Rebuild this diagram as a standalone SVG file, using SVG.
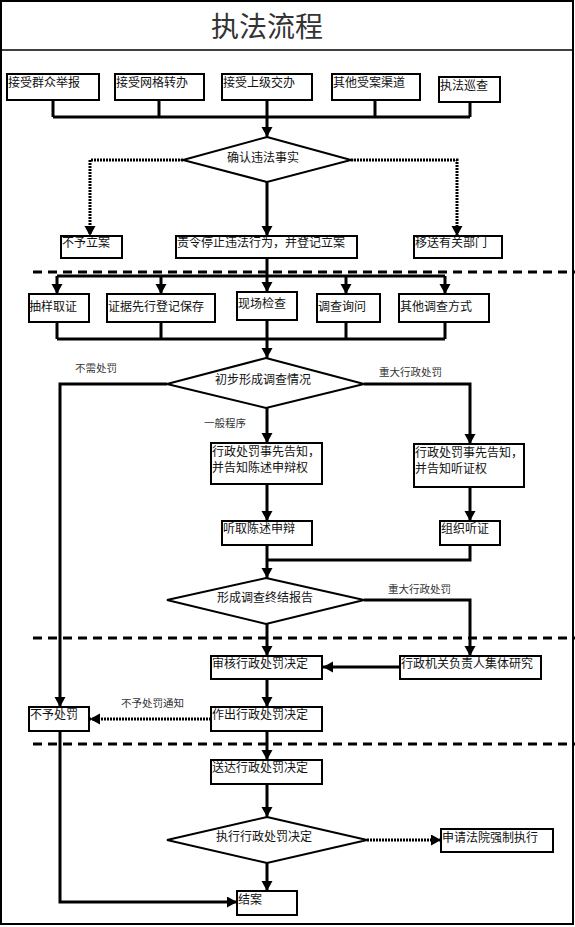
<svg xmlns="http://www.w3.org/2000/svg" width="575" height="927" viewBox="0 0 575 927">
<style>
  .box { fill: #fff; stroke: #000; stroke-width: 2; }
  .dia { fill: #fff; stroke: #000; stroke-width: 2; }
  .t { font-family: "Noto Sans CJK SC", "Liberation Sans", sans-serif; font-size: 12px; fill: #111; }
  .tc { font-family: "Noto Sans CJK SC", "Liberation Sans", sans-serif; font-size: 12px; fill: #111; text-anchor: middle; }
  .lbl { font-family: "Noto Sans CJK SC", "Liberation Sans", sans-serif; font-size: 10.5px; fill: #333; }
  .ln { fill: none; stroke: #000; stroke-width: 3; }
  .arr { fill: none; stroke: #000; stroke-width: 3; marker-end: url(#ah); }
  .dot { fill: none; stroke: #000; stroke-width: 3; stroke-dasharray: 2 1; marker-end: url(#ah); }
  .dash { fill: none; stroke: #000; stroke-width: 3; stroke-dasharray: 9 6; }
</style>
<defs>
  <marker id="ah" markerUnits="userSpaceOnUse" markerWidth="12" markerHeight="12" refX="10" refY="5.5" orient="auto">
    <path d="M0,0 L10,5.5 L0,11 z" fill="#000"/>
  </marker>
</defs>
<rect x="0" y="0" width="575" height="927" fill="#fff"/>
<rect x="1" y="1" width="572" height="923" fill="none" stroke="#000" stroke-width="2"/>
<line x1="1" y1="50" x2="573" y2="50" stroke="#000" stroke-width="1.5"/>
<text x="267" y="37" font-family="Noto Sans CJK SC, sans-serif" font-size="28" fill="#333" text-anchor="middle">执法流程</text>

<g id="separators">
  <line class="dash" x1="33" y1="272" x2="575" y2="272"/>
  <line class="dash" x1="33" y1="638" x2="575" y2="638"/>
  <line class="dash" x1="33" y1="744" x2="575" y2="744"/>
</g>

<g id="connectors">
  <path class="ln" d="M53,100 V117 M159,100 V117 M267,100 V117 M375,100 V117 M470,102 V117 M53,117 H470"/>
  <path class="arr" d="M267,117 V137"/>
  <path class="dot" d="M183,160 H90 V236"/>
  <path class="dot" d="M351,160 H457 V236"/>
  <path class="arr" d="M267,182 V236"/>
  <path class="ln" d="M267,258 V276 M57,276 H445"/>
  <path class="arr" d="M57,276 V294"/>
  <path class="arr" d="M161,276 V294"/>
  <path class="arr" d="M267,276 V292"/>
  <path class="arr" d="M346,276 V294"/>
  <path class="arr" d="M445,276 V294"/>
  <path class="ln" d="M57,322 V339 M161,322 V339 M267,320 V339 M346,322 V339 M445,322 V339 M57,339 H445"/>
  <path class="arr" d="M267,339 V358"/>
  <path class="arr" d="M167,384 H60 V707"/>
  <path class="arr" d="M364,384 H470 V444"/>
  <path class="arr" d="M267,408 V443"/>
  <path class="arr" d="M267,484 V521"/>
  <path class="arr" d="M470,487 V521"/>
  <path class="ln" d="M470,545 V560 H267"/>
  <path class="arr" d="M267,545 V578"/>
  <path class="arr" d="M364,600 H470 V656"/>
  <path class="arr" d="M267,624 V656"/>
  <path class="arr" d="M400,667 H323"/>
  <path class="arr" d="M267,679 V707"/>
  <path class="dot" d="M211,719 H90"/>
  <path class="arr" d="M267,731 V760"/>
  <path class="arr" d="M267,784 V817"/>
  <path class="dot" d="M367,840 H441"/>
  <path class="arr" d="M267,863 V891"/>
  <path class="arr" d="M60,731 V902 H237"/>
</g>

<g id="n_qunzhong"><rect class="box" x="7" y="74" width="92" height="26"/><text class="t" x="8" y="87">接受群众举报</text></g>
<g id="n_wangge"><rect class="box" x="115" y="74" width="89" height="26"/><text class="t" x="116" y="87">接受网格转办</text></g>
<g id="n_shangji"><rect class="box" x="222" y="74" width="90" height="26"/><text class="t" x="223" y="87">接受上级交办</text></g>
<g id="n_qita"><rect class="box" x="332" y="74" width="88" height="26"/><text class="t" x="333" y="87">其他受案渠道</text></g>
<g id="n_xuncha"><rect class="box" x="439" y="77" width="61" height="25"/><text class="t" x="440" y="90">执法巡查</text></g>

<g id="d_queren"><polygon class="dia" points="267,137 351,160 267,182 183,160"/><text class="tc" x="263" y="161.5">确认违法事实</text></g>

<g id="n_buyulian"><rect class="box" x="61" y="236" width="61" height="22"/><text class="t" x="62" y="247">不予立案</text></g>
<g id="n_zeling"><rect class="box" x="176" y="236" width="181" height="22"/><text class="t" x="177" y="247">责令停止违法行为，并登记立案</text></g>
<g id="n_yisong"><rect class="box" x="414" y="236" width="88" height="22"/><text class="t" x="415" y="247">移送有关部门</text></g>

<g id="n_chouyang"><rect class="box" x="29" y="294" width="60" height="28"/><text class="t" x="29" y="311">抽样取证</text></g>
<g id="n_zhengju"><rect class="box" x="107" y="294" width="108" height="28"/><text class="t" x="108" y="311">证据先行登记保存</text></g>
<g id="n_xianchang"><rect class="box" x="237" y="292" width="60" height="28"/><text class="t" x="238" y="308">现场检查</text></g>
<g id="n_diaocha"><rect class="box" x="317" y="294" width="63" height="28"/><text class="t" x="318" y="311">调查询问</text></g>
<g id="n_qitadc"><rect class="box" x="399" y="294" width="90" height="28"/><text class="t" x="400" y="311">其他调查方式</text></g>

<g id="d_chubu"><polygon class="dia" points="266,358 364,384 266,408 167,384"/><text class="tc" x="263" y="384">初步形成调查情况</text></g>
<text class="lbl" x="75" y="372">不需处罚</text>
<text class="lbl" x="379" y="376">重大行政处罚</text>
<text class="lbl" x="204" y="427">一般程序</text>

<g id="n_gaozhi1"><rect class="box" x="211" y="443" width="111" height="41"/><text class="t" x="212" y="456">行政处罚事先告知，</text><text class="t" x="212" y="472">并告知陈述申辩权</text></g>
<g id="n_gaozhi2"><rect class="box" x="414" y="444" width="110" height="43"/><text class="t" x="415" y="457">行政处罚事先告知，</text><text class="t" x="415" y="473">并告知听证权</text></g>

<g id="n_tingqu"><rect class="box" x="222" y="521" width="90" height="24"/><text class="t" x="223" y="533">听取陈述申辩</text></g>
<g id="n_zuzhi"><rect class="box" x="440" y="521" width="60" height="24"/><text class="t" x="441" y="533">组织听证</text></g>

<g id="d_zhongjie"><polygon class="dia" points="266,578 364,600 266,624 167,600"/><text class="tc" x="265" y="601.5">形成调查终结报告</text></g>
<text class="lbl" x="388" y="593">重大行政处罚</text>

<g id="n_shenhe"><rect class="box" x="211" y="656" width="111" height="23"/><text class="t" x="212" y="668">审核行政处罚决定</text></g>
<g id="n_jiti"><rect class="box" x="400" y="656" width="141" height="23"/><text class="t" x="401" y="668">行政机关负责人集体研究</text></g>

<g id="n_zuochu"><rect class="box" x="211" y="707" width="111" height="24"/><text class="t" x="212" y="719">作出行政处罚决定</text></g>
<g id="n_buyuchufa"><rect class="box" x="29" y="707" width="60" height="24"/><text class="t" x="30" y="719">不予处罚</text></g>
<text class="lbl" x="121" y="707">不予处罚通知</text>

<g id="n_songda"><rect class="box" x="211" y="760" width="111" height="24"/><text class="t" x="212" y="772">送达行政处罚决定</text></g>

<g id="d_zhixing"><polygon class="dia" points="267,817 367,840 267,863 167,840"/><text class="tc" x="264" y="840.5">执行行政处罚决定</text></g>
<g id="n_shenqing"><rect class="box" x="441" y="829" width="112" height="23"/><text class="t" x="442" y="842">申请法院强制执行</text></g>
<g id="n_jiean"><rect class="box" x="237" y="891" width="60" height="24"/><text class="t" x="238" y="904">结案</text></g>
</svg>
